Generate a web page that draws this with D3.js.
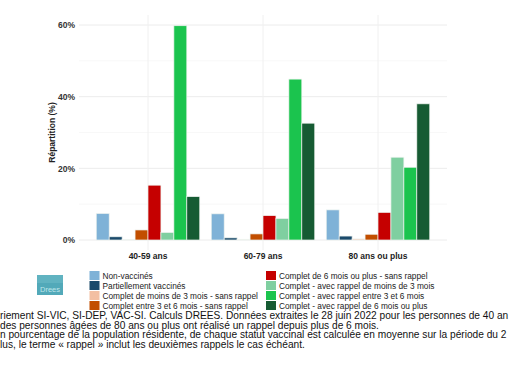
<!DOCTYPE html>
<html><head><meta charset="utf-8">
<script src="https://cdn.jsdelivr.net/npm/d3@7"></script>
<style>body{margin:0;background:#fff;} svg{display:block;font-family:"Liberation Sans",Arial,sans-serif;}</style>
</head><body><svg id="c" width="510" height="369"></svg>
<script>
const categories = ["40-59 ans", "60-79 ans", "80 ans ou plus"];
const seriesNames = [
  "Non-vaccinés",
  "Partiellement vaccinés",
  "Complet de moins de 3 mois - sans rappel",
  "Complet entre 3 et 6 mois - sans rappel",
  "Complet de 6 mois ou plus - sans rappel",
  "Complet - avec rappel de moins de 3 mois",
  "Complet - avec rappel entre 3 et 6 mois",
  "Complet - avec rappel de 6 mois ou plus"
];
const seriesColors = ["#7fb2d7", "#1b4a6b", "#f3bfa2", "#c24e00", "#c50000", "#7fcfa0", "#1bc44e", "#165b33"];
const values4059 = [7.4, 0.9, 0.1, 2.8, 15.3, 2.1, 59.8, 12.1];
const values6079 = [7.3, 0.6, 0.2, 1.7, 6.8, 6.0, 44.9, 32.6];
const values80 = [8.4, 1.1, 0.3, 1.6, 7.7, 23.1, 20.3, 38.0];
const yTicks = [0, 20, 40, 60];
const yMinor = [10, 30, 50];
const captionLines = [
  "riement SI-VIC, SI-DEP, VAC-SI. Calculs DREES. Données extraites le 28 juin 2022 pour les personnes de 40 an",
  "des personnes âgées de 80 ans ou plus ont réalisé un rappel depuis plus de 6 mois.",
  "n pourcentage de la population résidente, de chaque statut vaccinal est calculée en moyenne sur la période du 2",
  "lus, le terme « rappel » inclut les deuxièmes rappels le cas échéant."
];

(function () {
const allValues = [values4059, values6079, values80];
const svg = d3.select("#c");
const pLeft = 79, pRight = 447, pTop = 25, pBottom = 240;

const step = (pRight - pLeft) / 3.2;
const x0 = d3.scalePoint().domain(categories).range([pLeft + step * 0.6, pRight - step * 0.6]);
const x1 = d3.scaleBand().domain(d3.range(seriesNames.length)).range([-step * 0.45, step * 0.45]).padding(0);
const y = d3.scaleLinear().domain([0, 60]).range([pBottom, pTop]);

const g = svg.append("g");
g.selectAll(".minor").data(yMinor).join("line")
  .attr("x1", pLeft).attr("x2", pRight).attr("y1", d => y(d)).attr("y2", d => y(d))
  .attr("stroke", "#f4f4f4").attr("stroke-width", 0.6);
g.selectAll(".major").data(yTicks).join("line")
  .attr("x1", pLeft).attr("x2", pRight).attr("y1", d => y(d)).attr("y2", d => y(d))
  .attr("stroke", "#ececec").attr("stroke-width", 1);
g.selectAll(".vgrid").data(categories).join("line")
  .attr("x1", d => x0(d)).attr("x2", d => x0(d)).attr("y1", 15).attr("y2", 250)
  .attr("stroke", "#f0f0f0").attr("stroke-width", 1);

categories.forEach((c, ci) => {
  g.append("g").selectAll("rect").data(allValues[ci]).join("rect")
    .attr("x", (d, i) => x0(c) + x1(i))
    .attr("width", x1.bandwidth())
    .attr("y", d => y(d))
    .attr("height", d => y(0) - y(d))
    .attr("fill", (d, i) => seriesColors[i])
    .attr("stroke", "#eef3ef").attr("stroke-width", 0.7);
});

const yAxis = d3.axisLeft(y).tickValues(yTicks).tickFormat(d => d + "%").tickSize(0).tickPadding(4);
const ya = svg.append("g").attr("transform", `translate(${pLeft},0)`).call(yAxis);
ya.select(".domain").remove();
ya.selectAll("text").attr("font-size", 8.5).attr("font-weight", "bold").attr("fill", "#333")
  .attr("font-family", "Liberation Sans, Arial, sans-serif");

svg.append("text").attr("transform", `translate(55,${(pTop + pBottom) / 2}) rotate(-90)`)
  .attr("text-anchor", "middle").attr("font-size", 8.5).attr("font-weight", "bold").attr("fill", "#222")
  .text("Répartition (%)");

svg.selectAll(".xl").data(categories).join("text")
  .attr("x", d => x0(d)).attr("y", 259).attr("text-anchor", "middle")
  .attr("font-size", 8.5).attr("font-weight", "bold").attr("fill", "#222").text(d => d);

const logo = svg.append("g");
logo.append("rect").attr("x", 37).attr("y", 275).attr("width", 26).attr("height", 20).attr("fill", "#52a9b9");
logo.append("rect").attr("x", 37).attr("y", 275).attr("width", 26).attr("height", 8).attr("fill", "#6cbac6").attr("opacity", 0.6);
logo.append("text").attr("x", 50).attr("y", 292).attr("text-anchor", "middle").attr("font-size", 7.5)
  .attr("fill", "#bfe6ea").text("Drees");

const leg = svg.append("g");
seriesNames.forEach((s, i) => {
  const col = Math.floor(i / 4), row = i % 4;
  const lx = col === 0 ? 89.5 : 266, ly = 271 + row * 10;
  leg.append("rect").attr("x", lx).attr("y", ly).attr("width", 10).attr("height", 9).attr("fill", seriesColors[i]);
  leg.append("text").attr("x", lx + 13).attr("y", ly + 7.5).attr("font-size", 8.3).attr("fill", "#222").text(s);
});

const caps = svg.selectAll(".cap").data(captionLines).join("text")
  .attr("x", 0).attr("y", (d, i) => 319 + i * 9.6)
  .attr("font-size", 10).attr("fill", "#111").text(d => d);
const w0 = caps.nodes()[0].getComputedTextLength();
const fs = Math.min(10.6, 10 * 509 / w0);
caps.attr("font-size", fs);
})();
</script></body></html>
